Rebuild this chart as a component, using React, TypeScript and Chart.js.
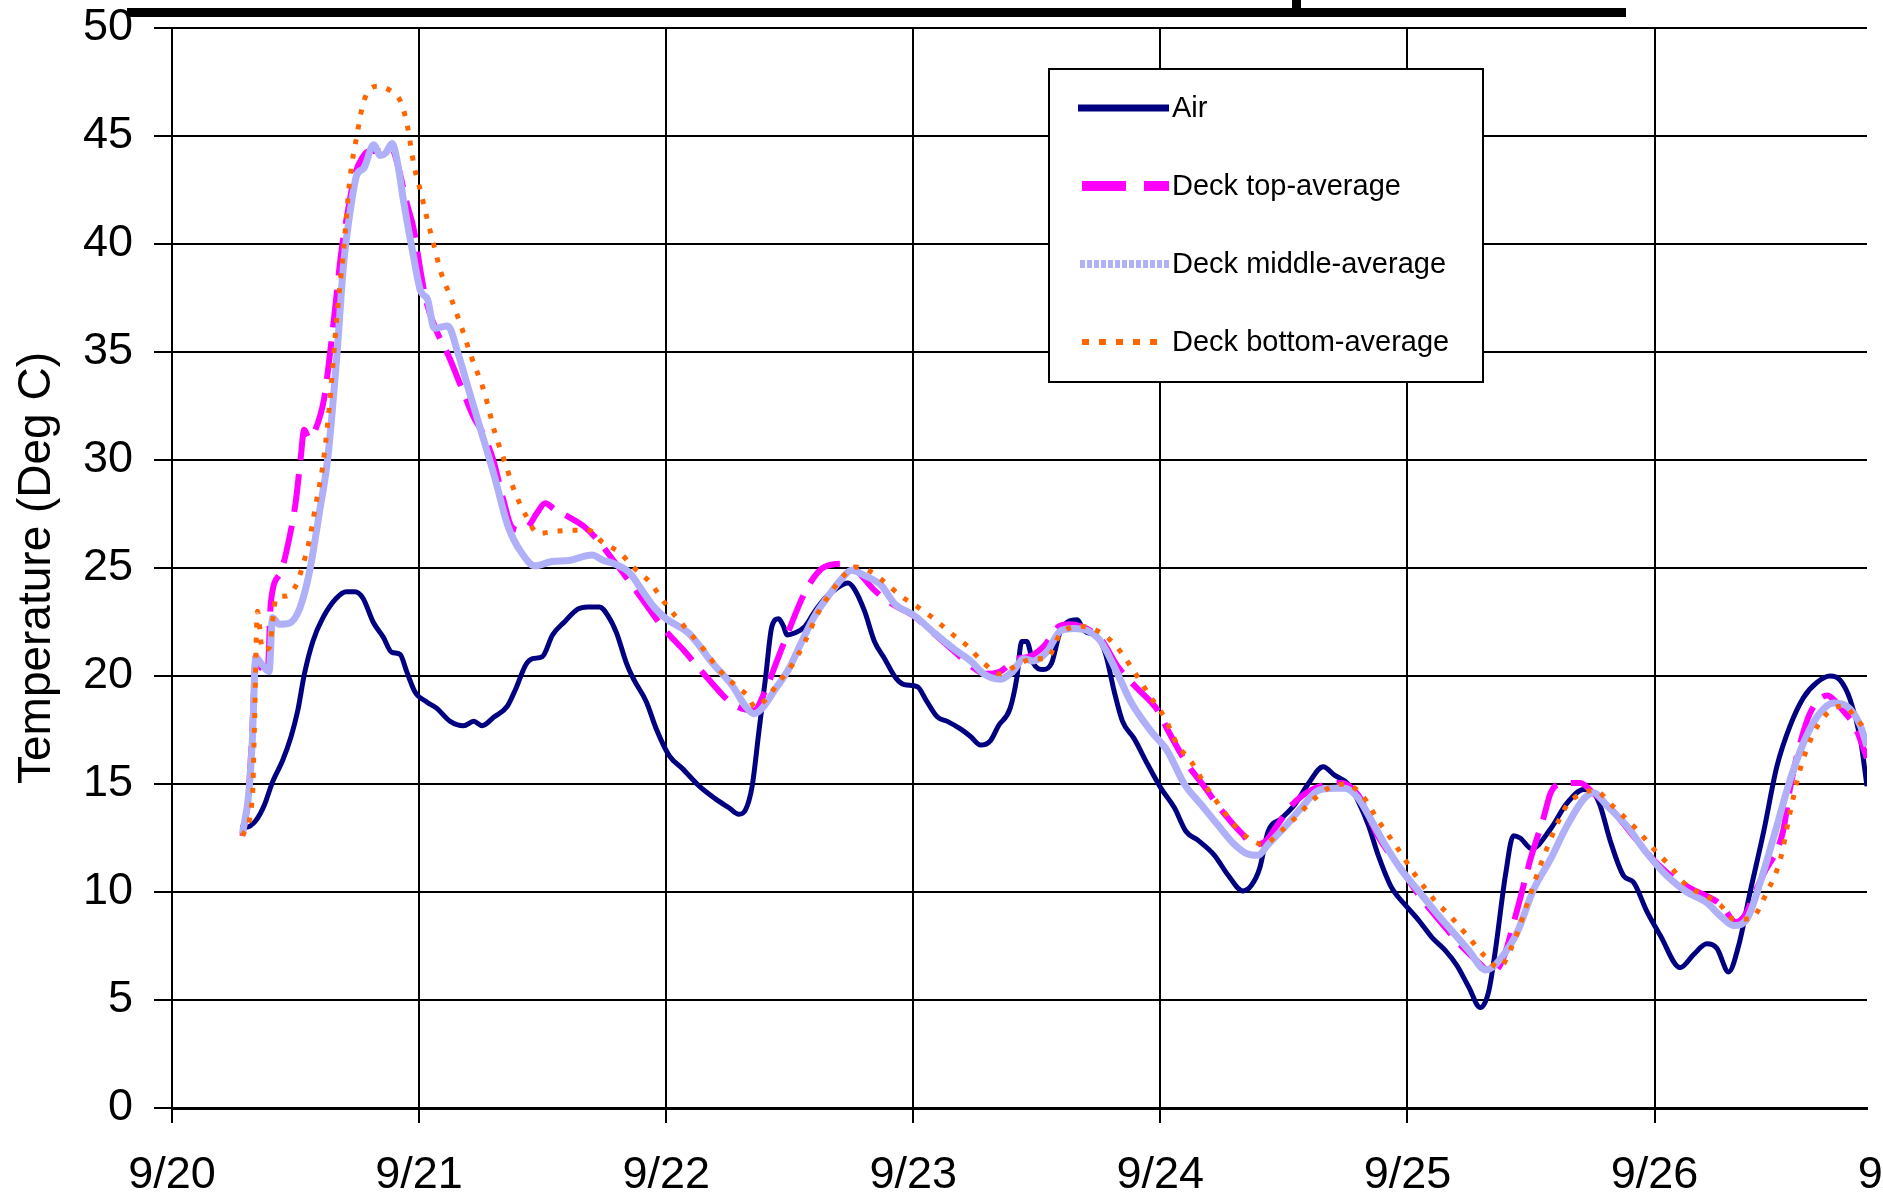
import { useEffect, useRef } from 'react';
import { Chart, registerables } from 'chart.js';

Chart.register(...registerables);

const FONT = '"Liberation Sans", Arial, Helvetica, sans-serif';

// x = days since 9/20 00:00
const dateLabels = ['9/20', '9/21', '9/22', '9/23', '9/24', '9/25', '9/26', '9/27'];
const seriesNames = ['Air', 'Deck top-average', 'Deck middle-average', 'Deck bottom-average'];

const airTemp: [number, number][] = [
  [0.278, 13.1], [0.3, 13.0], [0.339, 13.3], [0.373, 14.0], [0.407, 15.1], [0.448, 16.1], [0.482, 17.2],
  [0.509, 18.4], [0.536, 20.1], [0.57, 21.6], [0.611, 22.7], [0.665, 23.6], [0.706, 23.9], [0.74, 23.9],
  [0.773, 23.6], [0.814, 22.5], [0.855, 21.8], [0.889, 21.1], [0.923, 21.0], [0.95, 20.2], [0.984, 19.25],
  [1.031, 18.8], [1.072, 18.5], [1.126, 17.9], [1.18, 17.7], [1.221, 17.9], [1.255, 17.7], [1.303, 18.1],
  [1.357, 18.6], [1.391, 19.4], [1.431, 20.5], [1.459, 20.8], [1.499, 20.9], [1.54, 21.9], [1.588, 22.5],
  [1.642, 23.1], [1.683, 23.2], [1.73, 23.2], [1.764, 22.8], [1.799, 22.0], [1.839, 20.6], [1.866, 19.9],
  [1.92, 18.8], [1.96, 17.55], [2.013, 16.3], [2.067, 15.7], [2.134, 14.9], [2.201, 14.3], [2.254, 13.9],
  [2.294, 13.6], [2.321, 13.8], [2.348, 14.9], [2.375, 17.4], [2.402, 19.9], [2.428, 22.3], [2.455, 22.65],
  [2.475, 22.3], [2.489, 21.9], [2.522, 22.0], [2.562, 22.3], [2.602, 23.0], [2.643, 23.6], [2.683, 24.0],
  [2.736, 24.3], [2.763, 24.0], [2.803, 23.0], [2.843, 21.6], [2.884, 20.8], [2.93, 19.9], [2.964, 19.6],
  [3.017, 19.5], [3.051, 18.9], [3.098, 18.1], [3.138, 17.9], [3.191, 17.55], [3.232, 17.2], [3.272, 16.8],
  [3.312, 17.0], [3.345, 17.7], [3.392, 18.5], [3.419, 19.9], [3.439, 21.6], [3.459, 21.6], [3.486, 20.6],
  [3.526, 20.3], [3.56, 20.6], [3.593, 22.0], [3.624, 22.5], [3.664, 22.6], [3.691, 22.1], [3.746, 21.8],
  [3.779, 21.0], [3.813, 19.3], [3.847, 17.9], [3.894, 17.1], [3.949, 15.9], [4.003, 14.8], [4.057, 13.9],
  [4.104, 12.8], [4.152, 12.4], [4.219, 11.7], [4.273, 10.8], [4.334, 10.05], [4.368, 10.3], [4.402, 11.1],
  [4.436, 12.8], [4.49, 13.4], [4.544, 14.05], [4.598, 15.0], [4.659, 15.8], [4.706, 15.4], [4.76, 15.0],
  [4.801, 14.2], [4.842, 13.1], [4.882, 11.7], [4.936, 10.2], [4.991, 9.4], [5.045, 8.7], [5.099, 7.9],
  [5.153, 7.3], [5.2, 6.6], [5.248, 5.6], [5.295, 4.65], [5.329, 5.4], [5.356, 7.3], [5.397, 10.8],
  [5.429, 12.6], [5.456, 12.5], [5.503, 12.0], [5.578, 12.9], [5.645, 14.1], [5.713, 14.75], [5.753, 14.6],
  [5.78, 14.0], [5.82, 12.4], [5.875, 10.75], [5.915, 10.45], [5.969, 9.1], [6.023, 8.0], [6.104, 6.5],
  [6.158, 7.1], [6.212, 7.6], [6.252, 7.4], [6.3, 6.3], [6.34, 7.5], [6.387, 10.0], [6.441, 12.75],
  [6.495, 15.8], [6.549, 17.7], [6.603, 19.0], [6.657, 19.7], [6.711, 20.0], [6.752, 19.8], [6.792, 18.9],
  [6.833, 17.1], [6.86, 14.9],
];

const deckTopTemp: [number, number][] = [
  [0.285, 12.6], [0.31, 14.5], [0.325, 17.5], [0.339, 20.9], [0.36, 20.4], [0.387, 20.2], [0.4, 23.4],
  [0.44, 24.8], [0.475, 26.4], [0.5, 28.0], [0.52, 30.0], [0.535, 31.4], [0.555, 31.0], [0.58, 31.4],
  [0.615, 32.8], [0.635, 34.5], [0.66, 37.0], [0.685, 39.6], [0.71, 41.4], [0.74, 43.2], [0.77, 44.0],
  [0.8, 44.3], [0.85, 44.3], [0.89, 44.4], [0.915, 43.6], [0.95, 41.9], [0.98, 40.6], [1.005, 38.8],
  [1.03, 37.3], [1.07, 36.0], [1.12, 34.8], [1.17, 33.4], [1.22, 32.0], [1.26, 31.2], [1.3, 30.0],
  [1.34, 28.2], [1.375, 26.9], [1.41, 26.75], [1.44, 26.9], [1.48, 27.6], [1.51, 28.0], [1.55, 27.7],
  [1.6, 27.4], [1.67, 26.9], [1.73, 26.2], [1.77, 25.6], [1.83, 24.7], [1.9, 23.6], [1.99, 22.2],
  [2.07, 21.2], [2.16, 20.0], [2.27, 18.7], [2.355, 18.4], [2.4, 19.3], [2.455, 20.9], [2.51, 22.5],
  [2.55, 23.6], [2.6, 24.6], [2.64, 25.05], [2.73, 25.2], [2.77, 24.9], [2.84, 24.0], [2.92, 23.3],
  [3.0, 22.8], [3.08, 22.0], [3.17, 21.1], [3.23, 20.5], [3.29, 20.1], [3.35, 20.2], [3.42, 20.8],
  [3.47, 20.9], [3.53, 21.4], [3.59, 22.3], [3.63, 22.4], [3.7, 22.2], [3.76, 21.7], [3.83, 20.4],
  [3.9, 19.5], [3.99, 18.4], [4.03, 17.5], [4.11, 15.9], [4.17, 15.0], [4.26, 13.6], [4.33, 12.7],
  [4.38, 12.2], [4.42, 12.3], [4.48, 13.2], [4.53, 14.0], [4.625, 14.8], [4.73, 15.05], [4.8, 14.5],
  [4.88, 12.6], [4.99, 10.8], [5.05, 9.8], [5.15, 8.4], [5.21, 7.6], [5.3, 6.6], [5.34, 6.2], [5.39, 7.0],
  [5.44, 9.0], [5.47, 10.3], [5.5, 11.6], [5.55, 13.4], [5.58, 14.6], [5.62, 15.0], [5.7, 15.05],
  [5.75, 14.6], [5.82, 13.9], [5.9, 12.8], [5.97, 11.8], [6.05, 10.9], [6.14, 10.2], [6.27, 9.4],
  [6.33, 8.6], [6.37, 9.0], [6.4, 9.8], [6.44, 10.8], [6.52, 12.8], [6.55, 14.9], [6.59, 16.9],
  [6.63, 18.3], [6.7, 19.1], [6.725, 18.9], [6.77, 18.3], [6.81, 17.7], [6.86, 16.2],
];

const deckMiddleTemp: [number, number][] = [
  [0.285, 12.7], [0.31, 14.5], [0.325, 17.0], [0.339, 20.85], [0.366, 20.5], [0.393, 20.2], [0.407, 22.7],
  [0.434, 22.4], [0.475, 22.45], [0.516, 23.1], [0.556, 24.8], [0.597, 27.6], [0.631, 30.15], [0.667, 34.8],
  [0.694, 39.0], [0.721, 41.5], [0.748, 43.2], [0.776, 43.5], [0.816, 44.6], [0.843, 44.1], [0.864, 44.2],
  [0.891, 44.65], [0.912, 43.8], [0.939, 41.85], [0.973, 39.7], [1.007, 37.8], [1.034, 37.45], [1.061, 36.1],
  [1.116, 36.2], [1.156, 35.0], [1.197, 33.4], [1.252, 31.3], [1.306, 29.2], [1.361, 26.9], [1.415, 25.7],
  [1.469, 25.1], [1.537, 25.3], [1.605, 25.35], [1.7, 25.6], [1.746, 25.35], [1.79, 25.2], [1.85, 24.8],
  [1.906, 23.9], [1.95, 23.2], [2.0, 22.65], [2.094, 21.95], [2.187, 20.6], [2.268, 19.55], [2.321, 18.6],
  [2.355, 18.25], [2.388, 18.5], [2.442, 19.4], [2.495, 20.3], [2.549, 21.6], [2.602, 22.8], [2.656, 23.7],
  [2.71, 24.5], [2.75, 24.9], [2.803, 24.65], [2.87, 24.2], [2.924, 23.35], [3.004, 22.8], [3.084, 22.0],
  [3.165, 21.25], [3.232, 20.7], [3.285, 20.1], [3.352, 19.85], [3.406, 20.25], [3.446, 20.8], [3.486, 20.7],
  [3.54, 21.1], [3.597, 22.1], [3.651, 22.2], [3.705, 22.1], [3.759, 21.6], [3.827, 20.1], [3.881, 18.8],
  [3.962, 17.45], [4.03, 16.5], [4.097, 15.0], [4.165, 14.05], [4.233, 13.1], [4.3, 12.2], [4.355, 11.75],
  [4.395, 11.7], [4.436, 12.2], [4.503, 13.0], [4.571, 13.9], [4.639, 14.7], [4.706, 14.8], [4.747, 14.8],
  [4.8, 14.35], [4.855, 13.3], [4.909, 12.2], [4.977, 11.0], [5.045, 10.05], [5.112, 9.1], [5.18, 8.2],
  [5.248, 7.3], [5.316, 6.4], [5.342, 6.5], [5.383, 7.0], [5.443, 8.1], [5.51, 10.1], [5.578, 11.5],
  [5.645, 13.05], [5.713, 14.3], [5.753, 14.6], [5.807, 14.0], [5.888, 13.05], [5.969, 11.8], [6.05, 10.75],
  [6.131, 10.0], [6.212, 9.5], [6.266, 8.9], [6.32, 8.45], [6.374, 8.75], [6.428, 10.45], [6.495, 13.05],
  [6.549, 15.2], [6.603, 16.9], [6.657, 18.1], [6.725, 18.75], [6.779, 18.6], [6.833, 17.7], [6.86, 16.75],
];

const deckBottomTemp: [number, number][] = [
  [0.285, 12.6], [0.326, 14.5], [0.332, 16.9], [0.346, 23.0], [0.366, 21.2], [0.393, 21.3], [0.421, 23.6],
  [0.461, 23.7], [0.502, 24.2], [0.529, 25.1], [0.556, 26.3], [0.583, 28.0], [0.611, 29.8], [0.638, 32.6],
  [0.667, 36.6], [0.694, 39.7], [0.721, 43.1], [0.748, 45.0], [0.776, 46.6], [0.83, 47.3], [0.884, 47.1],
  [0.925, 46.6], [0.952, 45.5], [0.98, 43.6], [1.007, 42.4], [1.034, 41.1], [1.061, 39.9], [1.088, 38.7],
  [1.129, 37.5], [1.17, 36.2], [1.211, 34.8], [1.265, 33.1], [1.306, 31.3], [1.347, 29.9], [1.388, 28.5],
  [1.429, 27.5], [1.483, 26.6], [1.551, 26.7], [1.633, 26.75], [1.687, 26.75], [1.741, 26.2], [1.813, 25.7],
  [1.866, 25.05], [1.933, 24.35], [2.0, 23.3], [2.08, 22.2], [2.147, 21.3], [2.214, 20.3], [2.281, 19.55],
  [2.328, 19.1], [2.361, 18.55], [2.402, 18.9], [2.455, 19.7], [2.509, 20.5], [2.562, 21.6], [2.616, 22.95],
  [2.669, 23.9], [2.723, 24.7], [2.763, 25.05], [2.817, 24.9], [2.884, 24.35], [2.95, 23.7], [3.017, 23.2],
  [3.084, 22.65], [3.151, 22.0], [3.218, 21.4], [3.285, 20.6], [3.352, 20.1], [3.419, 20.5], [3.486, 20.8],
  [3.54, 20.8], [3.593, 21.9], [3.678, 22.3], [3.759, 22.0], [3.827, 21.3], [3.894, 20.2], [3.962, 19.0],
  [4.016, 18.1], [4.07, 16.8], [4.124, 16.05], [4.179, 15.0], [4.246, 13.9], [4.3, 13.1], [4.368, 12.4],
  [4.422, 12.2], [4.476, 12.7], [4.544, 13.4], [4.612, 14.2], [4.68, 14.8], [4.747, 15.0], [4.815, 14.5],
  [4.882, 13.3], [4.95, 12.2], [5.031, 10.8], [5.112, 9.6], [5.18, 8.8], [5.248, 7.9], [5.316, 7.0],
  [5.37, 6.5], [5.424, 7.5], [5.483, 9.4], [5.537, 11.2], [5.591, 12.75], [5.645, 14.0], [5.713, 14.6],
  [5.76, 14.7], [5.82, 14.1], [5.875, 13.5], [5.928, 12.9], [5.996, 12.0], [6.063, 11.2], [6.131, 10.3],
  [6.212, 9.8], [6.266, 9.4], [6.32, 8.75], [6.387, 8.75], [6.455, 10.0], [6.509, 11.5], [6.549, 13.7],
  [6.59, 15.7], [6.644, 17.35], [6.711, 18.4], [6.765, 18.6], [6.819, 18.0], [6.86, 17.4],
];

const COLORS = ['#000080', '#FF00FF', '#B0B0F8', '#FF6600'];

const toXY = (arr: [number, number][]) => arr.map(([x, y]) => ({ x, y }));

export default function App() {
  const ref = useRef<HTMLCanvasElement>(null);

  useEffect(() => {
    const canvas = ref.current;
    if (!canvas) return;

    const X_TICK_LEN = 15;
    const X_TICK_PAD = 26;
    const X_FONT = 45;

    const overlay = {
      id: 'overlay',
      afterDraw(chart: any) {
        const ctx: CanvasRenderingContext2D = chart.ctx;
        const xs = chart.scales.x;
        ctx.save();
        // the 9/27 label, cut by the page edge
        ctx.font = `${X_FONT}px ${FONT}`;
        ctx.fillStyle = '#000';
        ctx.textAlign = 'center';
        ctx.textBaseline = 'middle';
        ctx.fillText(dateLabels[7], xs.getPixelForValue(7), xs.top + X_TICK_LEN + X_TICK_PAD + (X_FONT * 1.2) / 2);

        // black bar at the top
        ctx.fillStyle = '#000';
        ctx.fillRect(127, 8, 1499, 9);
        ctx.fillRect(1292, 0, 9, 9);

        // legend box
        const bx = 1049, by = 69, bw = 434, bh = 313;
        ctx.fillStyle = '#fff';
        ctx.fillRect(bx, by, bw, bh);
        ctx.strokeStyle = '#000';
        ctx.lineWidth = 2;
        ctx.setLineDash([]);
        ctx.strokeRect(bx, by, bw, bh);

        const rows = [108, 186, 264, 342];
        const x0 = 1080, x1 = 1169;
        // Air
        ctx.strokeStyle = COLORS[0];
        ctx.lineWidth = 7;
        ctx.setLineDash([]);
        ctx.beginPath(); ctx.moveTo(x0 - 2, rows[0]); ctx.lineTo(x1, rows[0]); ctx.stroke();
        // Deck top
        ctx.strokeStyle = COLORS[1];
        ctx.lineWidth = 10;
        ctx.setLineDash([44, 18]);
        ctx.beginPath(); ctx.moveTo(x0 + 2, rows[1]); ctx.lineTo(x1, rows[1]); ctx.stroke();
        // Deck middle
        ctx.strokeStyle = COLORS[2];
        ctx.lineWidth = 8;
        ctx.setLineDash([5, 2]);
        ctx.beginPath(); ctx.moveTo(x0, rows[2]); ctx.lineTo(x1, rows[2]); ctx.stroke();
        // Deck bottom
        ctx.strokeStyle = COLORS[3];
        ctx.lineWidth = 6;
        ctx.setLineDash([7, 10]);
        ctx.beginPath(); ctx.moveTo(x0 + 2, rows[3]); ctx.lineTo(x1 - 6, rows[3]); ctx.stroke();
        ctx.setLineDash([]);

        ctx.fillStyle = '#000';
        ctx.font = `29px ${FONT}`;
        ctx.textAlign = 'left';
        ctx.textBaseline = 'middle';
        seriesNames.forEach((name, i) => ctx.fillText(name, 1172, rows[i] + 1));
        ctx.restore();
      },
    };

    const chart = new Chart(canvas, {
      type: 'line',
      data: {
        datasets: [
          {
            label: seriesNames[0], data: toXY(airTemp), borderColor: COLORS[0], borderWidth: 5,
            pointRadius: 0, cubicInterpolationMode: 'monotone', order: 4,
          },
          {
            label: seriesNames[1], data: toXY(deckTopTemp), borderColor: COLORS[1], borderWidth: 6,
            borderDash: [38, 14], pointRadius: 0, cubicInterpolationMode: 'monotone', order: 3,
          },
          {
            label: seriesNames[2], data: toXY(deckMiddleTemp), borderColor: COLORS[2], borderWidth: 7,
            pointRadius: 0, cubicInterpolationMode: 'monotone', order: 2,
          },
          {
            label: seriesNames[3], data: toXY(deckBottomTemp), borderColor: COLORS[3], borderWidth: 5,
            borderDash: [5, 10], pointRadius: 0, cubicInterpolationMode: 'monotone', order: 1,
          },
        ] as any,
      },
      options: {
        animation: false,
        responsive: false,
        devicePixelRatio: 1,
        layout: { padding: { top: 28, right: 16, left: 0, bottom: 0 } },
        plugins: { legend: { display: false }, tooltip: { enabled: false } },
        scales: {
          x: {
            type: 'linear',
            min: 0,
            max: 6.86,
            afterBuildTicks: (scale: any) => {
              scale.ticks = scale.ticks.filter((t: any) => Number.isInteger(t.value));
            },
            afterFit: (scale: any) => {
              scale.height = 94;
              scale.paddingLeft = 0;
              scale.paddingRight = 0;
            },
            ticks: {
              stepSize: 1,
              autoSkip: false,
              maxRotation: 0,
              padding: X_TICK_PAD,
              color: '#000',
              font: { family: FONT, size: X_FONT },
              callback: (v: any) => dateLabels[Number(v)] ?? '',
            },
            grid: { color: '#000', lineWidth: 2, tickLength: X_TICK_LEN, drawTicks: true },
            border: { display: true, color: '#000', width: 3 },
          },
          y: {
            type: 'linear',
            min: 0,
            max: 50,
            afterFit: (scale: any) => {
              scale.width = 172;
              scale.paddingTop = 0;
              scale.paddingBottom = 0;
            },
            ticks: {
              stepSize: 5,
              padding: 21,
              color: '#000',
              font: { family: FONT, size: 45 },
            },
            grid: { color: '#000', lineWidth: 2, tickLength: 18, drawTicks: true },
            border: { display: true, color: '#000', width: 2 },
            title: {
              display: true,
              text: 'Temperature (Deg C)',
              color: '#000',
              font: { family: FONT, size: 46 },
              padding: { top: 10, bottom: 0 },
            },
          },
        },
      } as any,
      plugins: [overlay],
    });

    return () => chart.destroy();
  }, []);

  return (
    <div style={{ position: 'fixed', left: 0, top: 0, width: 1883, height: 1202, background: '#fff', overflow: 'hidden' }}>
      <canvas ref={ref} width={1883} height={1202} style={{ display: 'block', width: 1883, height: 1202 }} />
    </div>
  );
}
